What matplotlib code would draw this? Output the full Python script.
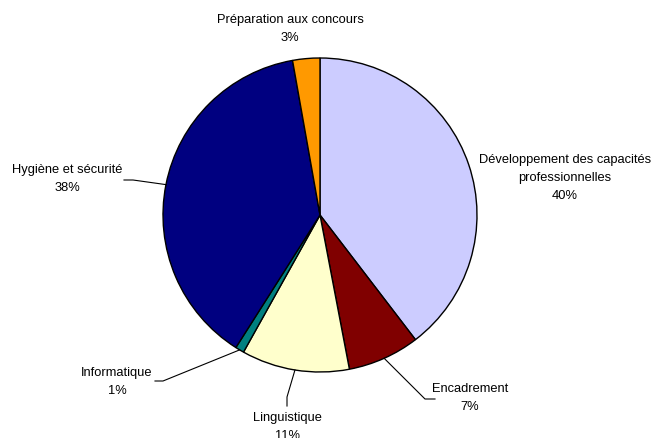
import numpy as np
import matplotlib
matplotlib.use("Agg")
import matplotlib.pyplot as plt

plt.rcParams['font.family'] = ['Liberation Sans', 'DejaVu Sans']

# données (parts en %), sens horaire depuis le haut
categories = ["Développement des capacités\nprofessionnelles", "Encadrement", "Linguistique",
              "Informatique", "Hygiène et sécurité", "Préparation aux concours"]
values = [39.6, 7.4, 11.1, 0.9, 38.2, 2.8]
colors = ["#CCCCFF", "#800000", "#FFFFCC", "#008080", "#000080", "#FF9900"]

H = 438
fig = plt.figure(figsize=(6.57, 4.38), dpi=100)
ax = fig.add_axes([0, 0, 1, 1])

cx, cy, r = 320, H - 215, 157
wedges, _ = ax.pie(values, colors=colors, startangle=90, counterclock=False,
                   center=(cx, cy), radius=r, frame=True,
                   wedgeprops=dict(edgecolor='black', linewidth=1.0))
ax.set_xlim(0, 657)
ax.set_ylim(0, H)
ax.set_aspect('equal')
ax.axis('off')

# positions des étiquettes (pixels) et lignes de rappel
label_pos = [(565, 178), (470, 398), (287, 427), (117, 382), (67, 179), (290, 29)]
leaders = [None,
           [(425, 399), (435, 399)],
           [(287, 397), (287, 406)],
           [(163, 381), (155, 381)],
           [(133, 180), (124, 180)],
           None]

for w, cat, v, (lx, ly), ld in zip(wedges, categories, values, label_pos, leaders):
    txt = f"{cat}\n{round(v):d}%"
    ax.text(lx, H - ly, txt, ha='center', va='center', fontsize=9.3,
            linespacing=1.7, color='black')
    if ld is not None:
        mid = np.deg2rad((w.theta1 + w.theta2) / 2)
        ex, ey = cx + r * np.cos(mid), cy + r * np.sin(mid)
        xs = [ex] + [p[0] for p in ld]
        ys = [ey] + [H - p[1] for p in ld]
        ax.plot(xs, ys, color='black', linewidth=0.8)

plt.savefig("out.png", dpi=100)
